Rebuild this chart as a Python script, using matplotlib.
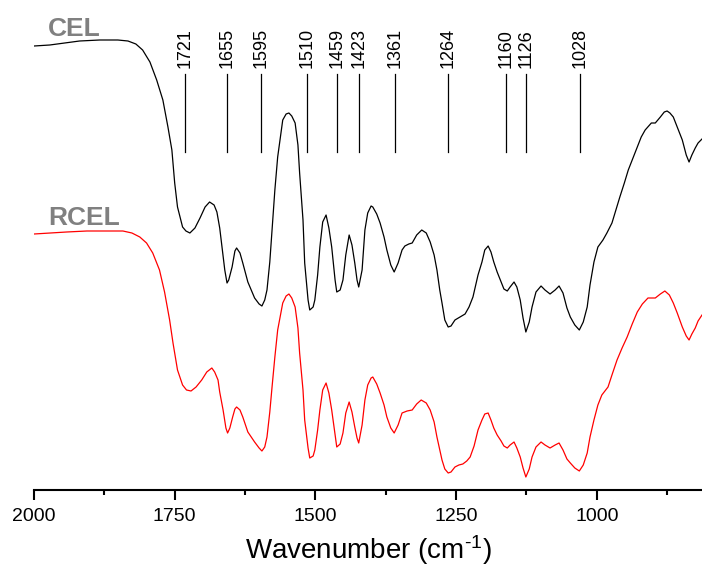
import matplotlib
matplotlib.use("Agg")
import matplotlib.pyplot as plt
from matplotlib.ticker import MultipleLocator

plt.rcParams['font.family'] = ['Liberation Sans', 'DejaVu Sans']
plt.rcParams['mathtext.fontset'] = 'custom'
plt.rcParams['mathtext.rm'] = 'Liberation Sans'
plt.rcParams['mathtext.it'] = 'Liberation Sans'

# wavenumber (cm-1) and offset transmittance (a.u.)
cel_w = [2000, 1972, 1945, 1919, 1883, 1851, 1833, 1819, 1807, 1794, 1782, 1771, 1762, 1755,
         1750, 1745, 1736, 1730, 1723, 1714, 1705, 1696, 1688, 1680, 1675, 1670, 1666, 1661,
         1657, 1654, 1648, 1643, 1640, 1634, 1629, 1620, 1608, 1600, 1595, 1590, 1586, 1581,
         1577, 1572, 1567, 1558, 1552, 1547, 1542, 1536, 1531, 1528, 1522, 1519, 1513, 1510,
         1504, 1501, 1496, 1492, 1487, 1481, 1476, 1471, 1465, 1462, 1456, 1451, 1446, 1440,
         1435, 1430, 1426, 1423, 1417, 1412, 1407, 1401, 1398, 1391, 1385, 1378, 1373, 1366,
         1360, 1353, 1346, 1341, 1334, 1328, 1320, 1311, 1303, 1296, 1289, 1284, 1279, 1275,
         1270, 1264, 1259, 1252, 1243, 1234, 1227, 1220, 1211, 1204, 1199, 1193, 1188, 1183,
         1177, 1170, 1165, 1159, 1154, 1147, 1142, 1136, 1131, 1126, 1120, 1115, 1108, 1099,
         1092, 1083, 1074, 1067, 1060, 1053, 1047, 1039, 1031, 1024, 1017, 1012, 1005, 998,
         989, 982, 973, 966, 959, 951, 944, 935, 928, 921, 914, 903, 896, 887, 880, 875,
         870, 864, 857, 848, 841, 836, 831, 825, 820, 813]
cel_t = [444, 445, 447, 449, 450, 450, 449, 446, 440, 428, 410, 390, 363, 340,
         307, 283, 263, 259, 257, 262, 272, 283, 288, 285, 278, 262, 243, 220,
         207, 210, 223, 239, 242, 237, 227, 208, 192, 186, 184, 190, 200, 228,
         260, 300, 333, 370, 376, 377, 374, 367, 345, 317, 270, 227, 190, 180,
         183, 190, 215, 243, 268, 275, 262, 243, 210, 198, 200, 210, 235, 255,
         245, 227, 210, 203, 220, 260, 277, 284, 283, 276, 267, 253, 240, 225,
         218, 227, 240, 244, 246, 247, 255, 260, 257, 248, 235, 220, 200, 187,
         170, 163, 164, 170, 173, 176, 183, 193, 215, 228, 240, 244, 238, 228,
         218, 208, 201, 199, 203, 208, 203, 190, 172, 158, 168, 183, 198, 204,
         200, 196, 200, 204, 197, 182, 173, 165, 160, 168, 183, 205, 228, 243,
         250, 257, 267, 280, 293, 307, 320, 333, 343, 353, 360, 367, 367, 373, 378, 379,
         377, 373, 363, 350, 335, 328, 335, 342, 347, 351]

rcel_w = [2000, 1972, 1942, 1906, 1874, 1842, 1826, 1812, 1800, 1789, 1777, 1768, 1759, 1753,
          1745, 1736, 1729, 1721, 1712, 1702, 1693, 1684, 1679, 1673, 1670, 1664, 1659, 1656,
          1652, 1647, 1643, 1640, 1634, 1629, 1620, 1608, 1600, 1595, 1590, 1586, 1581, 1577,
          1572, 1567, 1558, 1552, 1547, 1542, 1536, 1531, 1528, 1522, 1519, 1513, 1510, 1504,
          1501, 1496, 1492, 1487, 1481, 1476, 1471, 1465, 1462, 1456, 1451, 1446, 1440, 1435,
          1430, 1426, 1423, 1417, 1412, 1407, 1401, 1398, 1391, 1385, 1378, 1373, 1366, 1360,
          1353, 1346, 1337, 1328, 1320, 1312, 1303, 1296, 1289, 1284, 1275, 1270, 1264, 1259,
          1252, 1245, 1238, 1231, 1225, 1218, 1211, 1204, 1199, 1193, 1188, 1183, 1177, 1170,
          1165, 1159, 1154, 1147, 1142, 1136, 1131, 1126, 1120, 1115, 1108, 1099, 1092, 1083,
          1074, 1067, 1060, 1053, 1047, 1039, 1031, 1024, 1017, 1012, 1005, 998, 991, 980,
          973, 964, 955, 946, 937, 928, 919, 909, 896, 887, 879, 871, 864, 857,
          848, 841, 836, 831, 825, 820, 813]
rcel_t = [256, 257, 258, 259, 259, 259, 257, 253, 247, 237, 220, 198, 170, 147,
          120, 105, 100, 99, 103, 110, 118, 122, 118, 110, 98, 80, 62, 57,
          62, 73, 81, 83, 80, 73, 58, 48, 42, 39, 43, 53, 78, 103,
          133, 160, 187, 194, 196, 192, 183, 162, 137, 100, 70, 42, 32, 34,
          40, 60, 80, 100, 107, 97, 80, 55, 43, 46, 57, 77, 88, 78,
          63, 52, 47, 65, 90, 105, 112, 113, 106, 97, 85, 73, 62, 57,
          65, 77, 79, 80, 86, 90, 87, 80, 68, 53, 30, 21, 17, 18,
          23, 25, 26, 29, 33, 44, 60, 70, 76, 77, 70, 62, 55, 49,
          44, 42, 45, 48, 42, 33, 22, 13, 21, 33, 43, 48, 45, 42,
          45, 47, 40, 31, 27, 22, 19, 25, 37, 53, 70, 85, 95, 103,
          115, 130, 142, 153, 166, 178, 186, 192, 192, 196, 199, 195, 187, 177,
          163, 154, 150, 156, 162, 169, 175]

peak_labels = ['1721', '1655', '1595', '1510', '1459', '1423', '1361', '1264', '1160', '1126', '1028']
peak_pos = [1731, 1657, 1597, 1515, 1461, 1423, 1359, 1264, 1161, 1126, 1029]
mark_lo, mark_hi = 338, 416

fig = plt.figure(figsize=(7.02, 5.69), dpi=100)
ax = fig.add_axes([34 / 702, 79 / 569, 668 / 702, 490 / 569])

ax.plot(cel_w, cel_t, color='black', lw=0.9)
ax.plot(rcel_w, rcel_t, color='red', lw=0.9)

for p, lab in zip(peak_pos, peak_labels):
    ax.plot([p, p], [mark_lo, mark_hi], color='black', lw=0.9)
    ax.text(p, mark_hi + 6, lab, rotation=90, ha='center', va='bottom', fontsize=13)

ax.text(1975, 454, 'CEL', color='#808080', fontsize=19, fontweight='bold', va='baseline')
ax.text(1975, 265, 'RCEL', color='#808080', fontsize=19, fontweight='bold', va='baseline')

ax.set_xlim(2000, 813)
ax.set_ylim(0, 490)
ax.xaxis.set_major_locator(MultipleLocator(250))
ax.xaxis.set_minor_locator(MultipleLocator(125))
ax.tick_params(axis='x', which='major', direction='out', length=7, width=1.5, labelsize=14, pad=6)
ax.tick_params(axis='x', which='minor', direction='out', length=3.6, width=1.5)
ax.set_yticks([])
for s in ['top', 'right', 'left']:
    ax.spines[s].set_visible(False)
ax.spines['bottom'].set_linewidth(1.5)
ax.set_xlabel('Wavenumber (cm$^{\\text{-}1}$)', fontsize=20, labelpad=6)

fig.savefig('out.png', dpi=100)
